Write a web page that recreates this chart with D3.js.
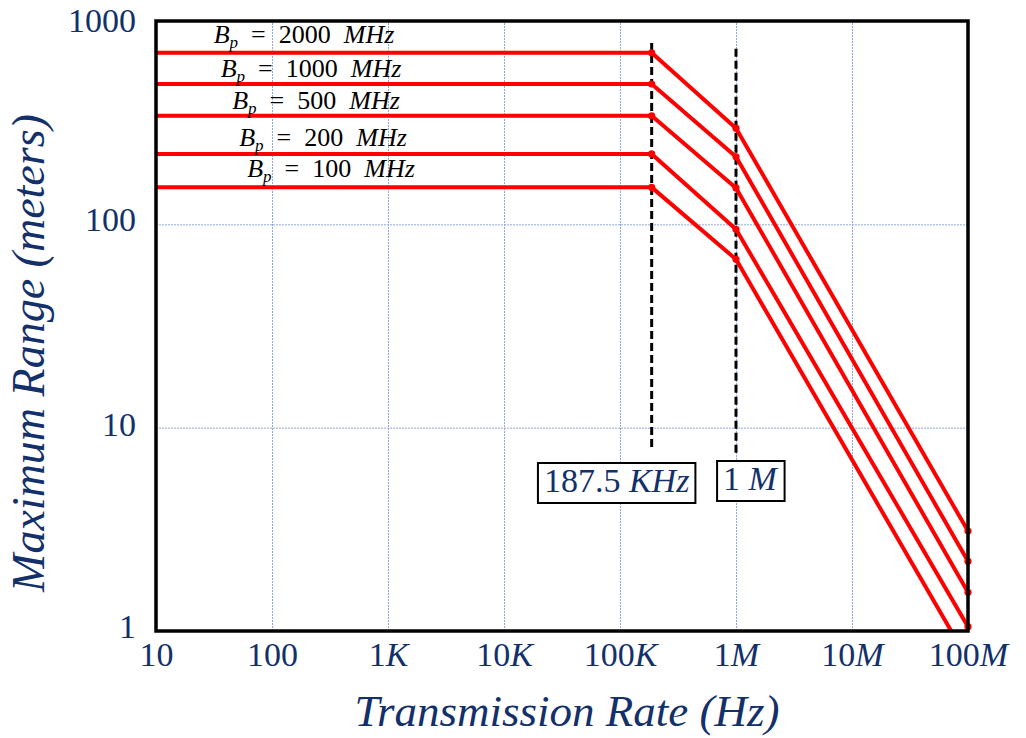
<!DOCTYPE html>
<html><head><meta charset="utf-8">
<script src="https://cdn.jsdelivr.net/npm/d3@7"></script>
<style>
html,body{margin:0;padding:0;background:#fff;}
svg{display:block;}
</style></head><body>
<svg id="chart" width="1026" height="738"></svg>
<script>
// Maximum range versus transmission rate, for several pulse bandwidths
const transmissionRates = [10, 187500, 1e6, 1e8];
const bandwidthLabels = ["2000", "1000", "500", "200", "100"];
const rangeBp2000 = [698, 698, 297, 3.1];
const rangeBp1000 = [490, 490, 215, 2.2];
const rangeBp500  = [342, 342, 151, 1.55];
const rangeBp200  = [222, 222, 94.6, 1.05];
const rangeBp100  = [152, 152, 67.3, 0.72];
const xTickValues = [10, 100, 1e3, 1e4, 1e5, 1e6, 1e7, 1e8];
const xTickLabels = [["10", ""], ["100", ""], ["1", "K"], ["10", "K"], ["100", "K"], ["1", "M"], ["10", "M"], ["100", "M"]];
const yTickValues = [1, 10, 100, 1000];
const yTickLabels = ["1", "10", "100", "1000"];
const xGridValues = [100, 1e3, 1e4, 1e5, 1e6, 1e7];
const yGridValues = [10, 100];
const breakRates = [187500, 1e6];
const breakLabels = [["187.5 ", "KHz"], ["1 ", "M"]];

const series = [rangeBp2000, rangeBp1000, rangeBp500, rangeBp200, rangeBp100];

// layout
const W = 1026, H = 738;
const plot = {left: 156, right: 968, top: 21, bottom: 631};
const navy = "#13306b";
const serif = "'Liberation Serif', 'DejaVu Serif', serif";
const labelCenters = [304, 311, 316, 323, 331];   // x centres of the bandwidth labels
const labelLift = [10, 7, 7, 8, 10];              // gap between label baseline and its line
const breakSpan = [[780, 8], [730, 7.4]];          // vertical extent of the dashed markers (data units)
const breakBoxShift = [-35, 14];                   // horizontal offset of the boxed labels
const breakBoxBaseline = [492, 490];
const yLabelShift = {1: 6, 10: 8, 100: 6, 1000: 10};

const svg = d3.select("#chart");
svg.append("rect").attr("width", W).attr("height", H).attr("fill", "#fff");

const x = d3.scaleLog().domain([10, 1e8]).range([plot.left, plot.right]);
const y = d3.scaleLog().domain([1, 1000]).range([plot.bottom, plot.top]);

// gridlines
const gx = svg.append("g")
  .attr("transform", `translate(0,${plot.bottom})`)
  .call(d3.axisBottom(x).tickValues(xGridValues).tickSize(-(plot.bottom - plot.top)).tickFormat(""));
const gy = svg.append("g")
  .attr("transform", `translate(${plot.left},0)`)
  .call(d3.axisLeft(y).tickValues(yGridValues).tickSize(-(plot.right - plot.left)).tickFormat(""));
[gx, gy].forEach(g => {
  g.select(".domain").remove();
  g.selectAll(".tick line").attr("stroke", "#8eaadb").attr("stroke-width", 1).attr("stroke-dasharray", "2,1");
});

// clip region for the curves
svg.append("clipPath").attr("id", "plotClip")
  .append("rect").attr("x", plot.left).attr("y", plot.top)
  .attr("width", plot.right - plot.left).attr("height", plot.bottom - plot.top);

// dashed break-point markers
breakRates.forEach((r, i) => {
  svg.append("line")
    .attr("x1", x(r)).attr("x2", x(r))
    .attr("y1", y(breakSpan[i][0])).attr("y2", y(breakSpan[i][1]))
    .attr("stroke", "#000").attr("stroke-width", 3).attr("stroke-dasharray", "8,4");
});

// range curves
const line = d3.line().x((d, i) => x(transmissionRates[i])).y(d => y(d));
const curves = svg.append("g").attr("clip-path", "url(#plotClip)");
series.forEach(s => {
  curves.append("path").datum(s).attr("d", line)
    .attr("fill", "none").attr("stroke", "#ff0000").attr("stroke-width", 4)
    .attr("stroke-linejoin", "round");
});
series.forEach(s => {
  svg.append("g").selectAll("circle")
    .data(s.map((v, i) => ({r: transmissionRates[i], v})).filter((d, i) => i > 0 && d.v >= 1))
    .join("circle")
    .attr("cx", d => x(d.r)).attr("cy", d => y(d.v)).attr("r", 3.6).attr("fill", "#ff0000");
});

// boxed break-point labels
breakRates.forEach((r, i) => {
  const g = svg.append("g");
  const t = g.append("text")
    .attr("x", x(r) + breakBoxShift[i]).attr("y", breakBoxBaseline[i])
    .attr("text-anchor", "middle").attr("font-family", serif).attr("font-size", 34).attr("fill", navy);
  t.append("tspan").text(breakLabels[i][0]);
  t.append("tspan").attr("font-style", "italic").text(breakLabels[i][1]);
  const b = t.node().getBBox();
  g.insert("rect", "text")
    .attr("x", b.x - 6).attr("y", b.y + 1).attr("width", b.width + 12).attr("height", b.height + 3)
    .attr("fill", "#fff").attr("stroke", "#000").attr("stroke-width", 2);
});

// frame
svg.append("rect").attr("x", plot.left).attr("y", plot.top)
  .attr("width", plot.right - plot.left).attr("height", plot.bottom - plot.top)
  .attr("fill", "none").attr("stroke", "#000").attr("stroke-width", 3.5);

// bandwidth labels
series.forEach((s, i) => {
  const t = svg.append("text")
    .attr("x", labelCenters[i]).attr("y", y(s[0]) - labelLift[i])
    .attr("text-anchor", "middle").attr("font-family", serif).attr("font-size", 26).attr("fill", "#000");
  t.append("tspan").attr("font-style", "italic").text("B");
  t.append("tspan").attr("font-style", "italic").attr("font-size", 17).attr("dy", 5).text("p");
  t.append("tspan").attr("dy", -5).attr("xml:space", "preserve").text("\u2002=\u2002" + bandwidthLabels[i] + "\u2002");
  t.append("tspan").attr("font-style", "italic").text("MHz");
});

// x axis labels
const ax = svg.append("g")
  .attr("transform", `translate(0,${plot.bottom})`)
  .call(d3.axisBottom(x).tickValues(xTickValues).tickSize(0).tickPadding(0).tickFormat(""));
ax.select(".domain").remove();
ax.selectAll(".tick text")
  .attr("y", 35).attr("dy", null)
  .attr("font-family", serif).attr("font-size", 34).attr("fill", navy)
  .each(function (d, i) {
    const t = d3.select(this);
    t.append("tspan").text(xTickLabels[i][0]);
    if (xTickLabels[i][1]) t.append("tspan").attr("font-style", "italic").text(xTickLabels[i][1]);
  });

// y axis labels
const ay = svg.append("g")
  .attr("transform", `translate(${plot.left},0)`)
  .call(d3.axisLeft(y).tickValues(yTickValues).tickSize(0).tickPadding(20)
    .tickFormat((d, i) => yTickLabels[i]));
ay.select(".domain").remove();
ay.selectAll(".tick text")
  .attr("dy", d => yLabelShift[d]).attr("font-family", serif).attr("font-size", 34).attr("fill", navy);

// axis titles
svg.append("text")
  .attr("x", 567).attr("y", 726).attr("text-anchor", "middle")
  .attr("font-family", serif).attr("font-style", "italic").attr("font-size", 45).attr("fill", navy)
  .text("Transmission Rate (Hz)");
svg.append("text")
  .attr("transform", "translate(44,353) rotate(-90)").attr("text-anchor", "middle")
  .attr("font-family", serif).attr("font-style", "italic").attr("font-size", 46).attr("fill", navy)
  .text("Maximum Range (meters)");
</script>
</body></html>
